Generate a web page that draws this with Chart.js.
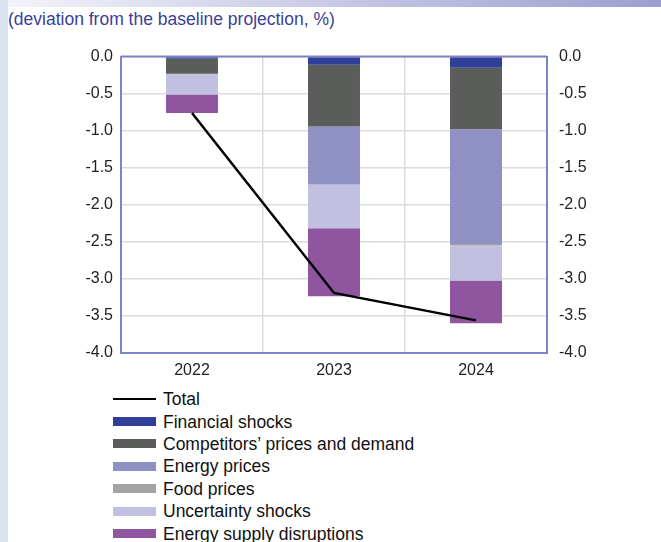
<!DOCTYPE html>
<html>
<head>
<meta charset="utf-8">
<script src="https://cdn.jsdelivr.net/npm/chart.js@4"></script>
<style>
  body { margin: 0; width: 661px; height: 542px; background: #fff; position: relative; overflow: hidden; font-family: "Liberation Sans", Arial, sans-serif; }
  #strip { position: absolute; left: 0; top: 0; width: 8px; height: 542px; background: #dae3f0; }
  #band { position: absolute; left: 8px; top: 0; width: 653px; height: 7px; background: linear-gradient(to right, #f3f3fa, #9c9ed0); }
  #title { position: absolute; left: 8px; top: 9px; font-size: 17.5px; color: #3b3f96; }
  #wrap { position: absolute; left: 0; top: 35px; width: 661px; height: 350px; }
  #legend { position: absolute; left: 113px; top: 388px; font-size: 17.5px; color: #111; }
  .item { height: 22.4px; line-height: 22px; display: flex; align-items: center; }
  .swatch { width: 43px; height: 9px; margin-right: 7px; }
  .line { width: 43px; height: 2px; background: #000; margin-right: 7px; }
</style>
</head>
<body>
<div id="strip"></div>
<div id="band"></div>
<div id="title">(deviation from the baseline projection, %)</div>
<div id="wrap"><canvas id="chart"></canvas></div>
<div id="legend"></div>
<script>
// categories and series (deviation from baseline, %)
const years = ["2022", "2023", "2024"];
const financialShocks = [-0.03, -0.11, -0.15];
const competitorsPrices = [-0.20, -0.835, -0.83];
const energyPrices = [0, -0.78, -1.55];
const foodPrices = [0, 0, -0.02];
const uncertaintyShocks = [-0.28, -0.59, -0.47];
const energySupply = [-0.25, -0.92, -0.58];
const total = [-0.76, -3.19, -3.56];
const yTicks = [0, -0.5, -1, -1.5, -2, -2.5, -3, -3.5, -4];

const barSeries = [
  { label: "Financial shocks", data: financialShocks, color: "#2f3f9a" },
  { label: "Competitors\u2019 prices and demand", data: competitorsPrices, color: "#5b5d5b" },
  { label: "Energy prices", data: energyPrices, color: "#8f90c4" },
  { label: "Food prices", data: foodPrices, color: "#a3a3a3" },
  { label: "Uncertainty shocks", data: uncertaintyShocks, color: "#c1c0e0" },
  { label: "Energy supply disruptions", data: energySupply, color: "#8f559e" }
];

const datasets = [
  {
    type: "line",
    label: "Total",
    data: total,
    borderColor: "#000",
    borderWidth: 2.5,
    pointRadius: 0,
    tension: 0,
    order: 0
  }
];
barSeries.forEach(s => {
  datasets.push({
    type: "bar",
    label: s.label,
    data: s.data,
    backgroundColor: s.color,
    borderWidth: 0,
    barPercentage: 0.366,
    categoryPercentage: 1,
    order: 1
  });
});

const tickFont = { family: "Liberation Sans, Arial, sans-serif", size: 16 };

new Chart(document.getElementById("chart"), {
  type: "bar",
  data: { labels: years, datasets: datasets },
  options: {
    responsive: true,
    maintainAspectRatio: false,
    animation: false,
    layout: { padding: { top: 12, bottom: 0, left: 0, right: 0 } },
    plugins: { legend: { display: false }, tooltip: { enabled: false } },
    scales: {
      x: {
        stacked: true,
        grid: { color: "#dcdcdc", lineWidth: 1.5, offset: true, drawTicks: false },
        border: { color: "#7d84c6", width: 2 },
        ticks: { color: "#222", font: tickFont, padding: 8 },
        afterFit: s => { s.height = 32; }
      },
      y: {
        stacked: true,
        position: "left",
        min: -4, max: 0,
        afterBuildTicks: s => { s.ticks = yTicks.map(v => ({ value: v })); },
        grid: { color: "#dcdcdc", lineWidth: 1.5, drawTicks: false },
        border: { color: "#7d84c6", width: 2 },
        ticks: { color: "#222", font: tickFont, padding: 8, callback: v => v.toFixed(1) },
        afterFit: s => { s.width = 121; }
      },
      y2: {
        position: "right",
        min: -4, max: 0,
        afterBuildTicks: s => { s.ticks = yTicks.map(v => ({ value: v })); },
        grid: { display: false, drawTicks: false },
        border: { color: "#7d84c6", width: 2 },
        ticks: { color: "#222", font: tickFont, padding: 12, callback: v => v.toFixed(1) },
        afterFit: s => { s.width = 114; }
      }
    }
  },
  plugins: [{
    id: "topBorder",
    afterDraw(chart) {
      const a = chart.chartArea, ctx = chart.ctx;
      ctx.save();
      ctx.strokeStyle = "#7d84c6";
      ctx.lineWidth = 2;
      ctx.beginPath();
      ctx.moveTo(a.left, a.top);
      ctx.lineTo(a.right, a.top);
      ctx.stroke();
      ctx.restore();
    }
  }]
});

// html legend, one entry per row
const legend = document.getElementById("legend");
datasets.forEach(d => {
  const row = document.createElement("div");
  row.className = "item";
  const mark = document.createElement("span");
  if (d.type === "line") {
    mark.className = "line";
  } else {
    mark.className = "swatch";
    mark.style.background = d.backgroundColor;
  }
  const text = document.createElement("span");
  text.textContent = d.label;
  row.appendChild(mark);
  row.appendChild(text);
  legend.appendChild(row);
});
</script>
</body>
</html>
